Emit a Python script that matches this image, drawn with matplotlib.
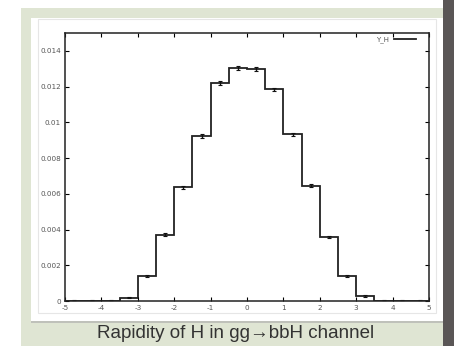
import matplotlib
matplotlib.use('Agg')
import matplotlib.pyplot as plt
from matplotlib.patches import Rectangle

# bin edges and contents of the rapidity histogram
bin_edges = [-5.0, -4.5, -4.0, -3.5, -3.0, -2.5, -2.0, -1.5, -1.0, -0.5,
             0.0, 0.5, 1.0, 1.5, 2.0, 2.5, 3.0, 3.5, 4.0, 4.5, 5.0]
y_h = [0.0, 0.0, 0.0, 0.00019, 0.0014, 0.00371, 0.00636, 0.00925, 0.01219, 0.01305,
       0.01299, 0.01184, 0.00932, 0.00645, 0.00358, 0.00142, 0.00028, 0.0, 0.0, 0.0]
y_err = [0.00005, 0.00005, 0.00005, 0.00005, 0.00005, 0.00008, 0.00008, 0.0001, 0.0001, 0.00012,
         0.00012, 0.0001, 0.0001, 0.00008, 0.00008, 0.00005, 0.00005, 0.00005, 0.00005, 0.00005]
x_ticks = [-5, -4, -3, -2, -1, 0, 1, 2, 3, 4, 5]
y_ticks = [0, 0.002, 0.004, 0.006, 0.008, 0.01, 0.012, 0.014]
y_ticklabels = ['0', '0.002', '0.004', '0.006', '0.008', '0.01', '0.012', '0.014']
title = 'Rapidity of H in gg\u2192bbH channel'

W, H = 454, 346
fig = plt.figure(figsize=(W / 100, H / 100), dpi=100)
fig.patch.set_facecolor('white')

# slide background, card, dark side bar
fig.patches.append(Rectangle((21 / W, 0), 422 / W, 1 - 8 / H, transform=fig.transFigure,
                             facecolor='#dfe5d3', edgecolor='none', zorder=-5))
fig.patches.append(Rectangle((443 / W, 0), 11 / W, 1, transform=fig.transFigure,
                             facecolor='#5a5656', edgecolor='none', zorder=-5))
fig.patches.append(Rectangle((31 / W, 1 - 323 / H), 412 / W, 303 / H, transform=fig.transFigure,
                             facecolor='#aaaaaa', edgecolor='none', zorder=-4, alpha=0.6))
fig.patches.append(Rectangle((31 / W, 1 - 321 / H), 412 / W, 303 / H, transform=fig.transFigure,
                             facecolor='white', edgecolor='none', zorder=-3))
fig.patches.append(Rectangle((38 / W, 1 - 313 / H), 398 / W, 294 / H, transform=fig.transFigure,
                             facecolor='none', edgecolor='#e6e6e6', lw=0.8, zorder=-2))

ax = fig.add_axes([65 / W, 45 / H, 364 / W, 268 / H])
ax.set_zorder(5)
ax.set_facecolor('white')

centers = [(bin_edges[i] + bin_edges[i + 1]) / 2 for i in range(len(y_h))]
ax.stairs(y_h, bin_edges, color='#222222', lw=1.3, label='Y_H')
ax.errorbar(centers, y_h, yerr=y_err, fmt='none', ecolor='#111111',
            elinewidth=1.0, capsize=1.5, capthick=0.8)

ax.set_xlim(-5, 5)
ax.set_ylim(0, 0.015)
ax.set_xticks(x_ticks)
ax.set_xticklabels([str(v) for v in x_ticks])
ax.set_yticks(y_ticks)
ax.set_yticklabels(y_ticklabels)
ax.tick_params(direction='in', length=3, width=0.8, labelsize=5.2,
               labelcolor='#555555', top=True, right=True, pad=3)
for s in ax.spines.values():
    s.set_linewidth(1.1)
    s.set_color('#222222')

leg = ax.legend(loc='upper right', frameon=False, fontsize=5, handlelength=3.2,
                markerfirst=False, borderaxespad=0.2, borderpad=0.3,
                handletextpad=0.8, bbox_to_anchor=(0.975, 1.0))
for t in leg.get_texts():
    t.set_color('#555555')

fig.text(236 / W, 1 - 333 / H, title, ha='center', va='center', fontsize=13.5,
         color='#333333', family=['Liberation Sans', 'DejaVu Sans'])

fig.savefig('out.png', dpi=100)
